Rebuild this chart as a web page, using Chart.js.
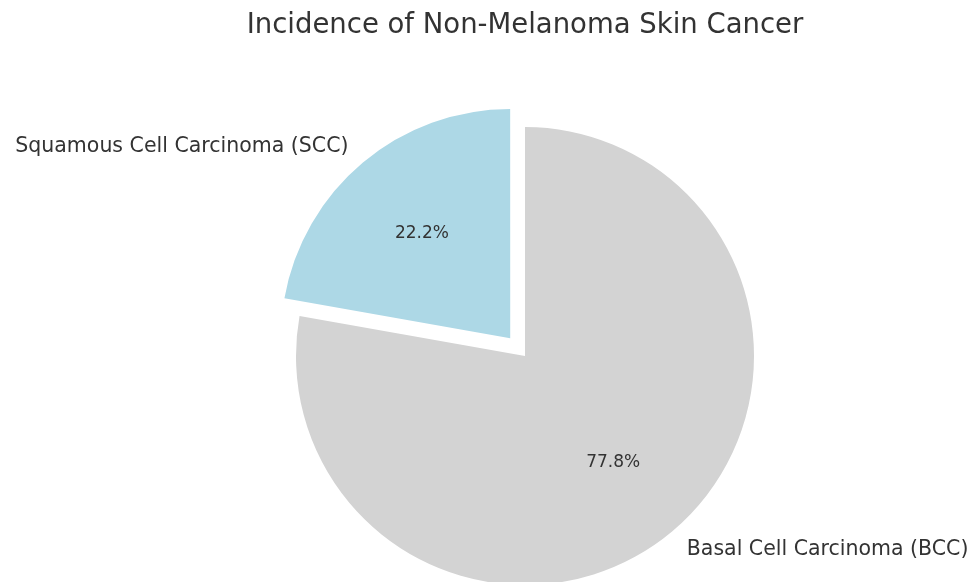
<!DOCTYPE html>
<html>
<head>
<meta charset="utf-8">
<title>Incidence of Non-Melanoma Skin Cancer</title>
<script src="https://cdn.jsdelivr.net/npm/chart.js@4.4.1/dist/chart.umd.min.js"></script>
<style>
  html, body { margin: 0; padding: 0; background: #fff; }
  #wrap { width: 976px; height: 582px; position: relative; }
</style>
</head>
<body>
<div id="wrap"><canvas id="pieChart"></canvas></div>
<script>
// data
const categories = ['Basal Cell Carcinoma (BCC)', 'Squamous Cell Carcinoma (SCC)'];
const shares = [77.8, 22.2];
const sliceColors = ['#d3d3d3', '#add8e6'];
const explode = [0, 92]; // arc offset, chart.js moves the slice by a quarter of it

const TEXT_COLOR = '#333333';
const FONT = "'DejaVu Sans', sans-serif";

// labels outside each slice and the percent inside it, like matplotlib's autopct
const sliceLabels = {
  id: 'sliceLabels',
  afterDatasetsDraw(chart) {
    const ctx = chart.ctx;
    const meta = chart.getDatasetMeta(0);
    const total = shares.reduce((a, b) => a + b, 0);
    ctx.save();
    ctx.fillStyle = TEXT_COLOR;
    ctx.textBaseline = 'middle';
    meta.data.forEach((arc, i) => {
      const p = arc.getProps(['x', 'y', 'startAngle', 'endAngle', 'outerRadius'], true);
      const mid = (p.startAngle + p.endAngle) / 2;
      const shift = explode[i] / 4;
      const cx = p.x + Math.cos(mid) * shift;
      const cy = p.y + Math.sin(mid) * shift;

      // category name at 1.1 r
      const lx = cx + Math.cos(mid) * p.outerRadius * 1.1;
      const ly = cy + Math.sin(mid) * p.outerRadius * 1.1;
      ctx.font = '20.5px ' + FONT;
      ctx.textAlign = lx < cx ? 'right' : 'left';
      ctx.fillText(categories[i], lx, ly + 1);

      // percent at 0.6 r
      const px = cx + Math.cos(mid) * p.outerRadius * 0.6;
      const py = cy + Math.sin(mid) * p.outerRadius * 0.6;
      ctx.font = '17px ' + FONT;
      ctx.textAlign = 'center';
      ctx.fillText((shares[i] / total * 100).toFixed(1) + '%', px, py + 1);
    });
    ctx.restore();
  }
};

const config = {
  type: 'pie',
  data: {
    labels: categories,
    datasets: [{
      data: shares,
      backgroundColor: sliceColors,
      borderWidth: 0,
      offset: explode,
      hoverOffset: 0
    }]
  },
  options: {
    responsive: true,
    maintainAspectRatio: false,
    animation: false,
    radius: 229,
    rotation: 0,
    layout: {
      padding: { left: 74, right: 0, top: 0, bottom: 0 }
    },
    plugins: {
      legend: { display: false },
      tooltip: { enabled: false },
      title: {
        display: true,
        text: 'Incidence of Non-Melanoma Skin Cancer',
        color: TEXT_COLOR,
        font: { family: FONT, size: 27.5, weight: 'normal' },
        padding: { top: 9, bottom: 88 }
      }
    }
  },
  plugins: [sliceLabels]
};

const myChart = new Chart(document.getElementById('pieChart'), config);
</script>
</body>
</html>
